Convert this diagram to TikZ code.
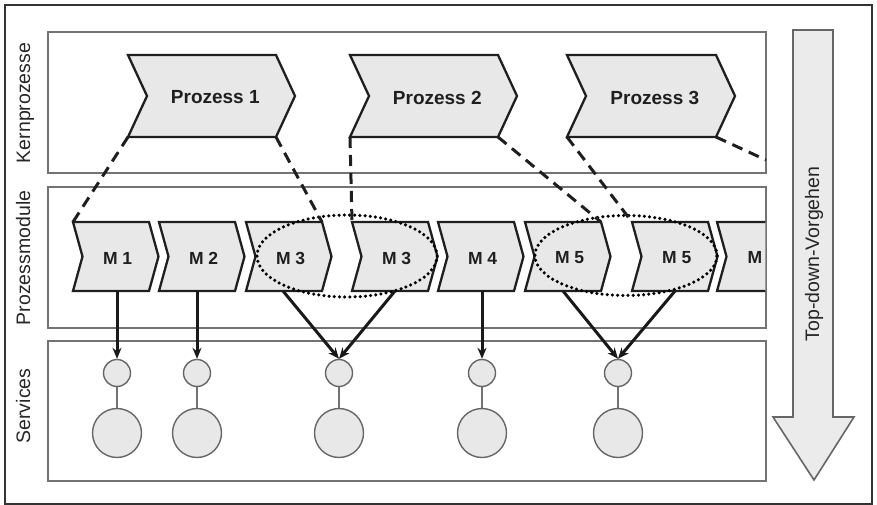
\documentclass[tikz,border=0pt]{standalone}
\usepackage{fontspec}
\setmainfont{Liberation Sans}
\usetikzlibrary{calc,arrows.meta,shapes.geometric}

% #1 name, #2 x, #3 y top, #4 body width, #5 height, #6 depth, #7 label, #8 label style
\newcommand\mychev[8]{%
  \coordinate (#1-tl) at (#2,#3);
  \coordinate (#1-tr) at ($(#1-tl)+(#4,0)$);
  \coordinate (#1-bl) at ($(#1-tl)+(0,#5)$);
  \coordinate (#1-br) at ($(#1-tl)+(#4,#5)$);
  \draw[chev] (#1-tl) -- (#1-tr) -- ($(#1-tr)+(#6,#5/2)$) -- (#1-br) -- (#1-bl) -- ($(#1-tl)+(#6,#5/2)$) -- cycle;
  \node[#8] (#1) at ($(#1-tl)+(#4/2+0.7*#6,#5/2+1.5)$) {#7};
}

\begin{document}
\begin{tikzpicture}[x=1pt,y=-1pt,
  outerframe/.style={draw=black!80,line width=2pt},
  lane/.style={draw=black!55,line width=1.5pt},
  chev/.style={fill=black!9,draw=black!88,line width=2.3pt,line join=miter},
  plab/.style={font=\bfseries\fontsize{19}{21}\selectfont,text=black!88,inner sep=0pt},
  mlab/.style={font=\bfseries\fontsize{17.5}{19}\selectfont,text=black!88,inner sep=0pt},
  sidelab/.style={font=\fontsize{19.5}{21}\selectfont,text=black!85,inner sep=0pt,rotate=90,anchor=base},
  dashln/.style={draw=black!88,line width=3pt,dash pattern=on 11pt off 7pt},
  dotell/.style={draw=black,ellipse,line width=3.5pt,dash pattern=on 0pt off 5.2pt,line cap=round,inner sep=0pt},
  marr/.style={draw=black!90,line width=3pt,-{Stealth[length=11pt,width=9pt]}},
  svc/.style={circle,fill=black!9,draw=black!60,line width=1.4pt,inner sep=0pt},
  svcln/.style={draw=black!55,line width=1.4pt},
  tdarrow/.style={fill=black!8,draw=black!60,line width=1.6pt,line join=miter}]

\useasboundingbox (0,0) rectangle (877,505);
\draw[outerframe] (5,5) rectangle (872,503.5);

% lanes
\draw[lane] (48,32) rectangle (766,173);
\draw[lane] (48,187) rectangle (766,328);
\draw[lane] (48,341) rectangle (766,481);

% side labels
\node[sidelab] (lk) at (30,103) {Kernprozesse};
\node[sidelab] (lp) at (30,258) {Prozessmodule};
\node[sidelab] (ls) at (30,406) {Services};

% core processes
\mychev{p1}{128}{55}{148}{82}{19}{Prozess 1}{plab}
\mychev{p2}{350}{55}{148}{82}{19}{Prozess 2}{plab}
\mychev{p3}{567}{55}{149}{82}{19}{Prozess 3}{plab}

% process modules
\mychev{m1}{73}{222}{76}{69}{9.5}{M 1}{mlab}
\mychev{m2}{159}{222}{76}{69}{9.5}{M 2}{mlab}
\mychev{m3a}{246}{222}{76}{69}{9.5}{M 3}{mlab}
\mychev{m3b}{352}{222}{76}{69}{9.5}{M 3}{mlab}
\mychev{m4}{438}{222}{76}{69}{9.5}{M 4}{mlab}
\mychev{m5a}{525}{222}{76}{69}{9.5}{M 5}{mlab}
\mychev{m5b}{632}{222}{76}{69}{9.5}{M 5}{mlab}
\begin{scope}
  \clip (48,187) rectangle (765.3,328);
  \mychev{m6}{717}{222}{76}{69}{9.5}{}{mlab}
\end{scope}
\node[mlab,anchor=west] (m6l) at (747.5,257.5) {M};

% dotted groupings
\node[dotell,minimum width=180pt,minimum height=82pt] (e1) at (347,256) {};
\node[dotell,minimum width=182pt,minimum height=80pt] (e2) at (626,255.5) {};

% dashed decomposition lines
\coordinate (p3end) at (766,160);
\draw[dashln] (p1-bl) -- (m1-tl);
\draw[dashln] (p1-br) -- (m3a-tr);
\draw[dashln] (p2-bl) -- (m3b-tl);
\draw[dashln] (p2-br) -- (m5a-tr);
\draw[dashln] (p3-bl) -- (m5b-tl);
\draw[dashln] (p3-br) -- (p3end);

% services
\foreach \n/\x in {1/117,2/197,3/339,4/482,5/618}{
  \node[svc,minimum size=27pt] (s\n) at (\x,373) {};
  \node[svc,minimum size=49pt] (t\n) at (\x,433) {};
  \draw[svcln] (s\n) -- (t\n);
}

% module -> service arrows
\draw[marr] (m1-bl -| s1) -- (s1.north);
\draw[marr] (m2-bl -| s2) -- (s2.north);
\draw[marr] ([xshift=37pt]m3a-bl) -- (s3.north);
\draw[marr] ([xshift=43pt]m3b-bl) -- (s3.north);
\draw[marr] (m4-bl -| s4) -- (s4.north);
\draw[marr] ([xshift=38pt]m5a-bl) -- (s5.north);
\draw[marr] ([xshift=43pt]m5b-bl) -- (s5.north);

% top-down arrow
\draw[tdarrow] (793,30) -- (833,30) -- (833,417) -- (854,417) -- (814,480) -- (773,417) -- (793,417) -- cycle;
\node[sidelab] (td) at (819,254) {Top-down-Vorgehen};
\end{tikzpicture}
\end{document}
